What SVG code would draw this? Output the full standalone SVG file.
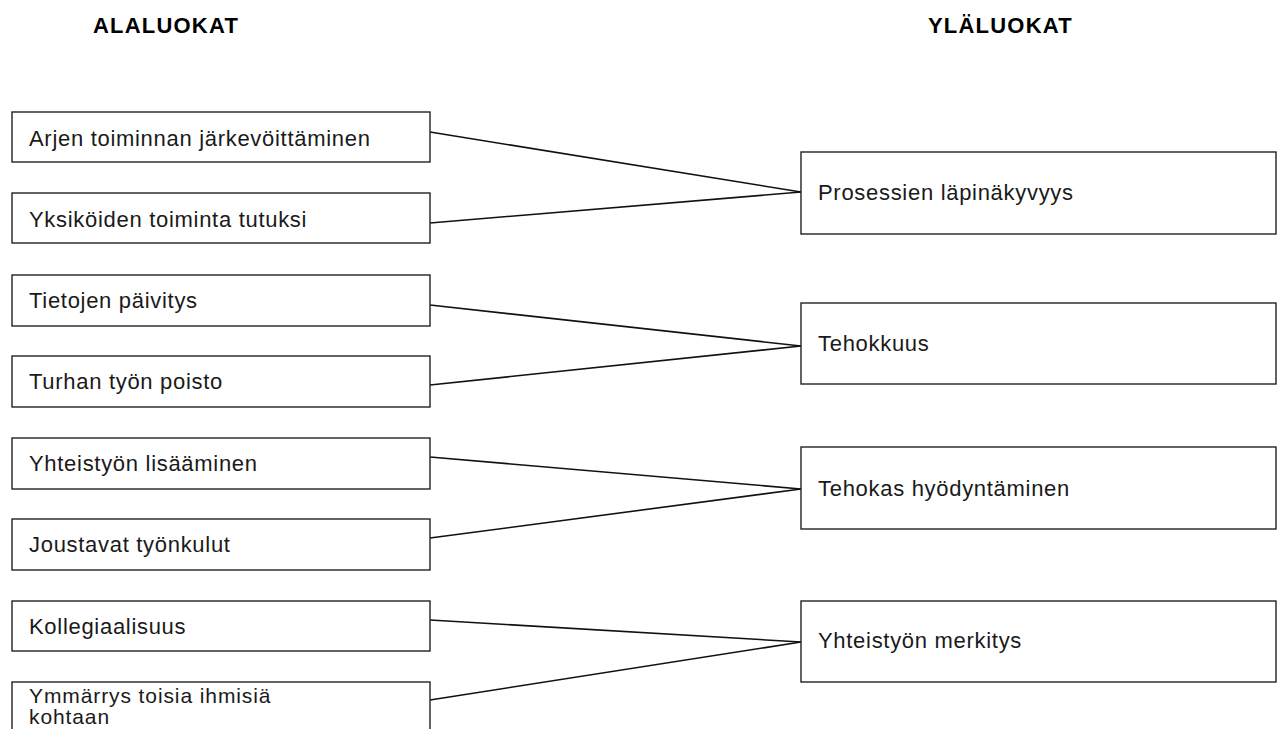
<svg xmlns="http://www.w3.org/2000/svg" width="1281" height="729" viewBox="0 0 1281 729">
  <style>
    .box { fill: #ffffff; stroke: #222222; stroke-width: 1.4; }
    .lbl { font-family: "Liberation Sans", Arial, sans-serif; font-size: 22px; fill: #1a1a1a; letter-spacing: 0.7px; }
    .wrap { font-size: 21px; letter-spacing: 0.9px; }
    .head { font-family: "Liberation Sans", Arial, sans-serif; font-size: 22px; font-weight: bold; fill: #000000; letter-spacing: 1.2px; }
    .link { stroke: #111111; stroke-width: 1.6; fill: none; }
  </style>
  <rect width="1281" height="729" fill="#ffffff"/>

  <!-- column headings -->
  <text class="head" x="93" y="33">ALALUOKAT</text>
  <text class="head" x="928" y="33">YLÄLUOKAT</text>

  <!-- connectors from subcategories to main categories -->
  <g id="connectors">
    <line class="link" x1="430" y1="132" x2="801" y2="192"/>
    <line class="link" x1="430" y1="223" x2="801" y2="192"/>
    <line class="link" x1="430" y1="305" x2="801" y2="346"/>
    <line class="link" x1="430" y1="385" x2="801" y2="346"/>
    <line class="link" x1="430" y1="457" x2="801" y2="489"/>
    <line class="link" x1="430" y1="538" x2="801" y2="489"/>
    <line class="link" x1="430" y1="620" x2="801" y2="642"/>
    <line class="link" x1="430" y1="700" x2="801" y2="642"/>
  </g>

  <!-- subcategories (left column) -->
  <g id="sub1"><rect class="box" x="12" y="112" width="418" height="50"/><text class="lbl" x="29" y="146">Arjen toiminnan järkevöittäminen</text></g>
  <g id="sub2"><rect class="box" x="12" y="193" width="418" height="50"/><text class="lbl" x="29" y="227">Yksiköiden toiminta tutuksi</text></g>
  <g id="sub3"><rect class="box" x="12" y="275" width="418" height="51"/><text class="lbl" x="29" y="308">Tietojen päivitys</text></g>
  <g id="sub4"><rect class="box" x="12" y="356" width="418" height="51"/><text class="lbl" x="29" y="389">Turhan työn poisto</text></g>
  <g id="sub5"><rect class="box" x="12" y="438" width="418" height="51"/><text class="lbl" x="29" y="471">Yhteistyön lisääminen</text></g>
  <g id="sub6"><rect class="box" x="12" y="519" width="418" height="51"/><text class="lbl" x="29" y="552">Joustavat työnkulut</text></g>
  <g id="sub7"><rect class="box" x="12" y="601" width="418" height="50"/><text class="lbl" x="29" y="634">Kollegiaalisuus</text></g>
  <g id="sub8"><rect class="box" x="12" y="682" width="418" height="60"/><text class="lbl wrap" x="29" y="703">Ymmärrys toisia ihmisiä</text><text class="lbl wrap" x="29" y="724">kohtaan</text></g>

  <!-- main categories (right column) -->
  <g id="main1"><rect class="box" x="801" y="152" width="475" height="82"/><text class="lbl" x="818" y="200">Prosessien läpinäkyvyys</text></g>
  <g id="main2"><rect class="box" x="801" y="303" width="475" height="81"/><text class="lbl" x="818" y="351">Tehokkuus</text></g>
  <g id="main3"><rect class="box" x="801" y="447" width="475" height="82"/><text class="lbl" x="818" y="496">Tehokas hyödyntäminen</text></g>
  <g id="main4"><rect class="box" x="801" y="601" width="475" height="81"/><text class="lbl" x="818" y="648">Yhteistyön merkitys</text></g>
</svg>
